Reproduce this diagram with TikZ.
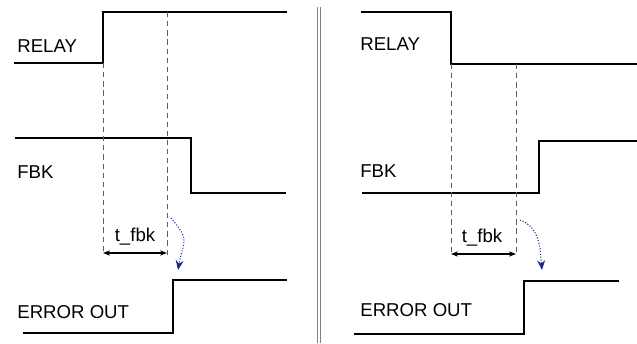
\documentclass[tikz,border=0pt]{standalone}
\usepackage{fontspec}
\setmainfont{Liberation Sans}
\usepackage{xcolor}
\usetikzlibrary{arrows.meta}
\definecolor{arcblue}{RGB}{30,40,140}
\definecolor{guidegray}{RGB}{95,95,95}

\tikzset{
signal/.style={line width=1.7pt},
guide/.style={guidegray,line width=0.5pt,dash pattern=on 3pt off 2.2pt},
span/.style={line width=0.6pt,{Stealth[length=4pt,width=3pt]}-{Stealth[length=4pt,width=3pt]}},
cause/.style={arcblue,line width=0.6pt,densely dotted,-{Stealth[length=5.5pt,width=4.5pt]}},
lbl/.style={anchor=west,inner sep=0pt,font=\fontsize{10.6}{12}\selectfont},
split/.style={gray,line width=0.5pt}
}

\begin{document}
\begin{tikzpicture}[x=0.02cm,y=0.02cm]
\useasboundingbox (0,0) rectangle (637,343);
% left: relay closes, feedback drops late
\draw[signal](14,280)--(103,280)--(103,331)--(287,331);
\draw[signal](15,205)--(191,205)--(191,150)--(286,150);
\draw[signal](23,10)--(173,10)--(173,63)--(287,63);
\node[lbl](relayL) at (17,297){RELAY};
\node[lbl](fbkL) at (17,171){FBK};
\node[lbl](errL) at (17,31){ERROR OUT};
\coordinate(sL) at (103,90);
\coordinate(eL) at (167,90);
\draw[guide](103,280)--(sL);
\draw[guide](167,331)--(167,85);
\draw[span](sL)--(eL);
\node[lbl,anchor=center](tL) at (135,106){t\_fbk};
\coordinate(cL0) at (171,125);
\coordinate(cL1) at (178,73);
\draw[cause](cL0) to[out=-50,in=80,looseness=1.5](cL1);
% divider
\draw[split](317,336)--(317,0) (320,336)--(320,0);
% right: relay opens, feedback rises late
\draw[signal](361,331)--(451,331)--(451,279)--(637,279);
\draw[signal](362,150)--(539,150)--(539,202)--(637,202);
\draw[signal](354,9)--(524,9)--(524,62)--(619,62);
\node[lbl](relayR) at (360,299){RELAY};
\node[lbl](fbkR) at (360,172){FBK};
\node[lbl](errR) at (360,33){ERROR OUT};
\coordinate(sR) at (451,89);
\coordinate(eR) at (516,89);
\draw[guide](451,279)--(sR);
\draw[guide](516,279)--(eR);
\draw[span](sR)--(eR);
\node[lbl,anchor=center](tR) at (482,105){t\_fbk};
\coordinate(cR0) at (520,123);
\coordinate(cR1) at (542,73);
\draw[cause](cR0) to[out=-20,in=95](cR1);
\end{tikzpicture}
\end{document}
